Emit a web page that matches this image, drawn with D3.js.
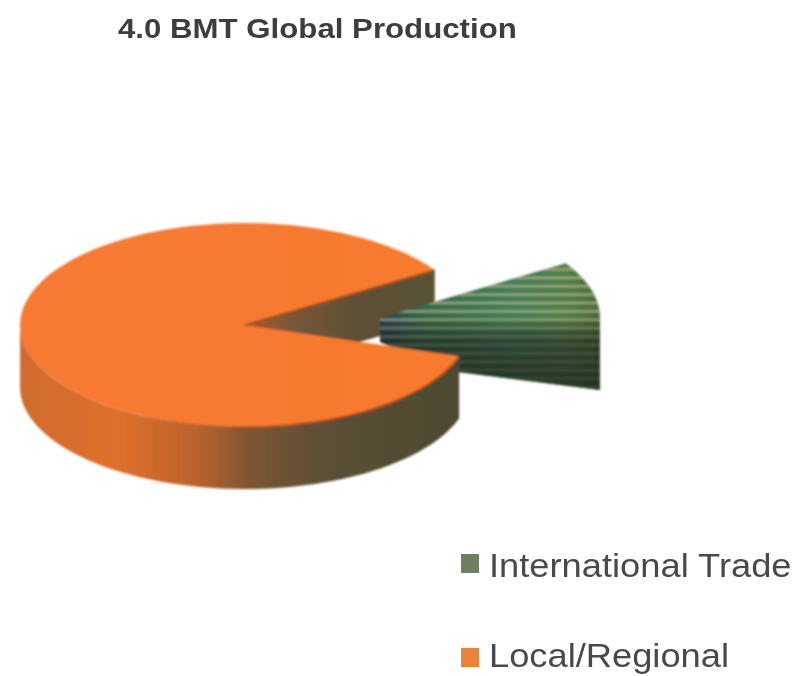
<!DOCTYPE html>
<html><head><meta charset="utf-8">
<script src="https://cdn.jsdelivr.net/npm/d3@7/dist/d3.min.js"></script>
<style>html,body{margin:0;padding:0;background:#fff}svg{display:block}</style>
</head><body><svg id="c" width="797" height="676"></svg>
<script>
const categories = ["International Trade", "Local/Regional"];
const values = [14, 86];
const swatchColors = ["#6f7f62", "#e8823c"];
const title = "4.0 BMT Global Production";

const TAU = Math.PI * 2;
const svg = d3.select("#c");
const defs = svg.append("defs");
const rx = 225, ry = 102, cx = 245, cy = 325;
const wedgeC = {x: 380, y: 318, rx: 220}, depth = 62, cutDepth = 50;

function lin(id, x1, x2, stops, y1 = 0, y2 = 0) {
  const g = defs.append("linearGradient").attr("id", id).attr("gradientUnits", "userSpaceOnUse")
    .attr("x1", x1).attr("x2", x2).attr("y1", y1).attr("y2", y2);
  stops.forEach(s => g.append("stop").attr("offset", s[0]).attr("stop-color", s[1]).attr("stop-opacity", s[2] ?? 1));
}
lin("mainSide", 20, 465, [[0,"#d06c2e"],[.22,"#de702c"],[.4,"#b8622d"],[.52,"#7c5533"],[.68,"#5c4f35"],[1,"#4c4a30"]]);
lin("cut", 245, 431, [[0,"#a85a2c"],[.3,"#74563a"],[.6,"#5c5035"],[1,"#585236"]]);
lin("face", 20, 465, [[0,"#f67a30"],[1,"#fb7a2c"]]);
lin("rim", 120, 300, [[0,"#b4521f",0],[1,"#b4521f",1]]);
lin("wedgeBase", 380, 600, [[0,"#24445a"],[.2,"#2f6a4e"],[.6,"#3f7f5a"],[.85,"#4f7f4c"],[1,"#456a3c"]]);
lin("shade", 0, 0, [[0,"#000",0],[.42,"#000",0],[.62,"#1a241c",.62],[1,"#1a221c",.8]], 262, 392);
const pat = defs.append("pattern").attr("id", "stripes").attr("patternUnits", "userSpaceOnUse")
  .attr("width", 8).attr("height", 8.4).attr("y", 263.9);
pat.append("rect").attr("width", 8).attr("height", 2.6).attr("y", 4.2).attr("fill", "#c0b682").attr("opacity", .7);
defs.append("filter").attr("id", "soft").attr("x", "-5%").attr("y", "-5%").attr("width", "110%").attr("height", "110%")
  .append("feGaussianBlur").attr("stdDeviation", .8);
defs.append("filter").attr("id", "softText").attr("x", "-5%").attr("y", "-20%").attr("width", "110%").attr("height", "140%")
  .append("feGaussianBlur").attr("stdDeviation", .6);

const start = 57.5 * Math.PI / 180;
const pie = d3.pie().sort(null).startAngle(start).endAngle(start + TAU);
const [trade, local] = pie(values);
const arc = d3.arc().innerRadius(0).outerRadius(rx);

const px = (a, c) => c.x + (c.rx ?? rx) * Math.sin(a);
const py = (a, c) => c.y - ry * Math.cos(a);
const main = {x: cx, y: cy};
const sweep = (a0, a1, n = 60) => d3.range(n + 1).map(i => a0 + (a1 - a0) * i / n);

const g = svg.append("g").attr("filter", "url(#soft)");

// cut wall of the main pie (upper edge of the gap)
const upA = trade.startAngle, loA = trade.endAngle;
g.append("path").attr("fill", "url(#cut)")
  .attr("d", d3.area().x(p => p[0]).y0(p => p[1]).y1(p => p[1] + cutDepth)(
    [[cx, cy], [px(upA, main), py(upA, main)]]));

// exploded slice: one silhouette (top and sides) filled, striped and shaded
const silhouette = [[wedgeC.x, wedgeC.y]]
  .concat(sweep(upA, Math.PI / 2).map(a => [px(a, wedgeC), py(a, wedgeC)]))
  .concat([[wedgeC.x + wedgeC.rx, wedgeC.y + 72], [450, 371], [wedgeC.x, wedgeC.y + 24]]);
const sil = d3.line()(silhouette) + "Z";
["url(#wedgeBase)", "url(#stripes)", "url(#shade)"].forEach(f =>
  g.append("path").attr("fill", f).attr("d", sil));

// main pie side and top
g.append("path").attr("fill", "url(#mainSide)")
  .attr("d", d3.area().x(a => px(a, main)).y0(a => py(a, main)).y1(a => py(a, main) + depth)(sweep(loA, 1.5 * Math.PI)));
g.append("path").attr("fill", "url(#face)").attr("d", arc(local))
  .attr("transform", `translate(${cx},${cy}) scale(1,${ry / rx})`);
// darker rim where the top meets the wall
g.append("path").attr("fill", "none").attr("stroke", "url(#rim)").attr("stroke-width", 2)
  .attr("d", d3.line().x(a => px(a, main)).y(a => py(a, main))(sweep(loA, 1.15 * Math.PI)));
g.append("path").attr("fill", "none").attr("stroke", "#a8501f").attr("stroke-width", 2)
  .attr("d", d3.line()([[cx, cy], [px(upA, main), py(upA, main)]]));

// title (the reference is stretched horizontally)
svg.append("text").attr("transform", "translate(118,38) scale(1.115,1)").text(title)
  .attr("font-family", "Liberation Sans, Arial, sans-serif").attr("font-weight", 700)
  .attr("font-size", 28).attr("fill", "#3c3c3c").attr("filter", "url(#softText)");

// legend
const legY = d3.scalePoint().domain(categories).range([554, 648]);
const textY = d3.scalePoint().domain(categories).range([577, 667]);
const leg = svg.append("g").attr("filter", "url(#softText)").selectAll("g").data(categories).join("g");
leg.append("rect").attr("x", 461).attr("y", d => legY(d)).attr("width", 18).attr("height", 19)
  .attr("fill", (d, i) => swatchColors[i]);
leg.append("text").attr("transform", d => `translate(489,${textY(d)}) scale(1.1,1)`).text(d => d)
  .attr("font-family", "Liberation Sans, Arial, sans-serif").attr("font-size", 33)
  .attr("fill", "#4a4a4a");
</script></body></html>
